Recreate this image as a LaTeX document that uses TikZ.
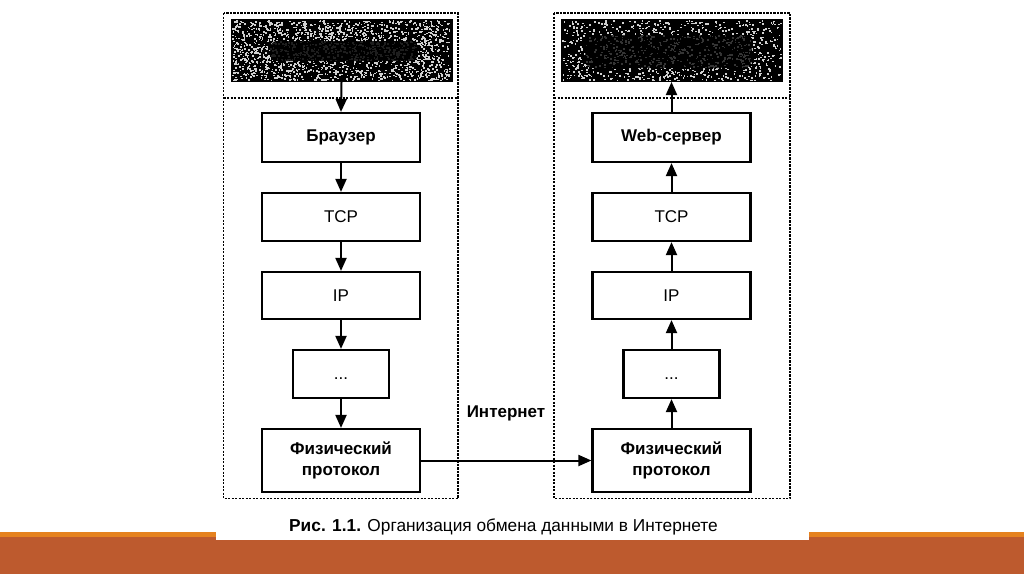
\documentclass[tikz,border=0pt]{standalone}
\usepackage{fontspec}
\setmainfont{Liberation Sans}
\usetikzlibrary{arrows.meta}
\definecolor{brownbar}{HTML}{BD5A2E}
\definecolor{orangeline}{HTML}{E5821F}
\definecolor{speck}{HTML}{D0D0D0}
\begin{document}
\begin{tikzpicture}[x=1pt,y=-1pt,
  cont/.style={line width=1.6pt, dash pattern=on 2.2pt off 1.3pt},
  layer/.style={draw, line width=2.2pt, minimum width=158pt, inner sep=0pt, align=center},
  smallbox/.style={draw, line width=2.2pt, inner sep=0pt, minimum width=96pt, minimum height=48pt, text height=1.5pt, text depth=0pt},
  darkbox/.style={fill=black, draw=black, line width=1pt, minimum width=221pt, minimum height=62pt, inner sep=0pt},
  arr/.style={line width=2pt, -{Triangle[length=13pt,width=11pt]}},
  regtext/.style={font=\fontsize{17}{20}\selectfont},
  boldtext/.style={font=\fontsize{17}{21.5}\selectfont\bfseries},
]
\useasboundingbox (0,0) rectangle (1024,574);
\fill[white] (0,0) rectangle (1024,574);
% bottom bars
\fill[orangeline] (0,531.5) rectangle (1024,537);
\fill[brownbar] (0,537) rectangle (1024,574);
\fill[white] (216,515) rectangle (809,540);

% containers
\draw[cont] (223.5,13) rectangle (458,498.5);
\draw[cont] (223.5,98) -- (458,98);
\draw[cont] (554,13) rectangle (790,498.5);
\draw[cont] (554,98) -- (790,98);

% dark source boxes
\node[darkbox] (lsrc) at (341.5,50.5) {};
\node[darkbox] (rsrc) at (671.5,50.5) {};
\pgfmathsetseed{11}
\foreach \i in {1,...,1700}{
  \fill[speck] ({232+218*rnd},{20+60*rnd}) rectangle ++(1.7,1.5);
}
\foreach \i in {1,...,1000}{
  \fill[speck] ({562+218*rnd},{20+60*rnd}) rectangle ++(1.7,1.5);
}
\fill[black, opacity=0.85, rounded corners=7pt] (270,41) rectangle (418,61);
\fill[black, opacity=0.75, rounded corners=8pt] (585,35) rectangle (752,68);

% left stack
\node[layer, minimum height=49pt, boldtext] (lbr) at (341,137.5) {Браузер};
\node[layer, minimum height=48pt, regtext] (ltcp) at (341,217) {TCP};
\node[layer, minimum height=47pt, regtext] (lip) at (341,295.5) {IP};
\node[smallbox, regtext] (ldots) at (341,374) {\raisebox{-5pt}{...}};
\node[layer, minimum height=63pt, boldtext] (lphys) at (341,460.5) {Физический\\протокол};

% right stack
\node[layer, minimum height=49pt, boldtext] (rws) at (671.5,137.5) {Web-сервер};
\node[layer, minimum height=48pt, regtext] (rtcp) at (671.5,217) {TCP};
\node[layer, minimum height=47pt, regtext] (rip) at (671.5,295.5) {IP};
\node[smallbox, regtext] (rdots) at (671.5,374) {\raisebox{-5pt}{...}};
\node[layer, minimum height=63pt, boldtext] (rphys) at (671.5,460.5) {Физический\\протокол};

% left arrows (down)
\draw[arr] (lsrc.south) -- (lbr.north);
\draw[arr] (lbr.south) -- (ltcp.north);
\draw[arr] (ltcp.south) -- (lip.north);
\draw[arr] (lip.south) -- (ldots.north);
\draw[arr] (ldots.south) -- (lphys.north);

% right arrows (up)
\draw[arr] (rws.north) -- (rsrc.south);
\draw[arr] (rtcp.north) -- (rws.south);
\draw[arr] (rip.north) -- (rtcp.south);
\draw[arr] (rdots.north) -- (rip.south);
\draw[arr] (rphys.north) -- (rdots.south);

% internet link
\draw[arr] (lphys.east) -- (rphys.west);
\node[boldtext] (inet) at (506,413) {Интернет};

% caption
\node[anchor=base, font=\fontsize{17.3}{20}\selectfont, inner sep=0pt] (cap) at (503.5,531) {\textbf{Рис. 1.1.} Организация обмена данными в Интернете};
\end{tikzpicture}
\end{document}
